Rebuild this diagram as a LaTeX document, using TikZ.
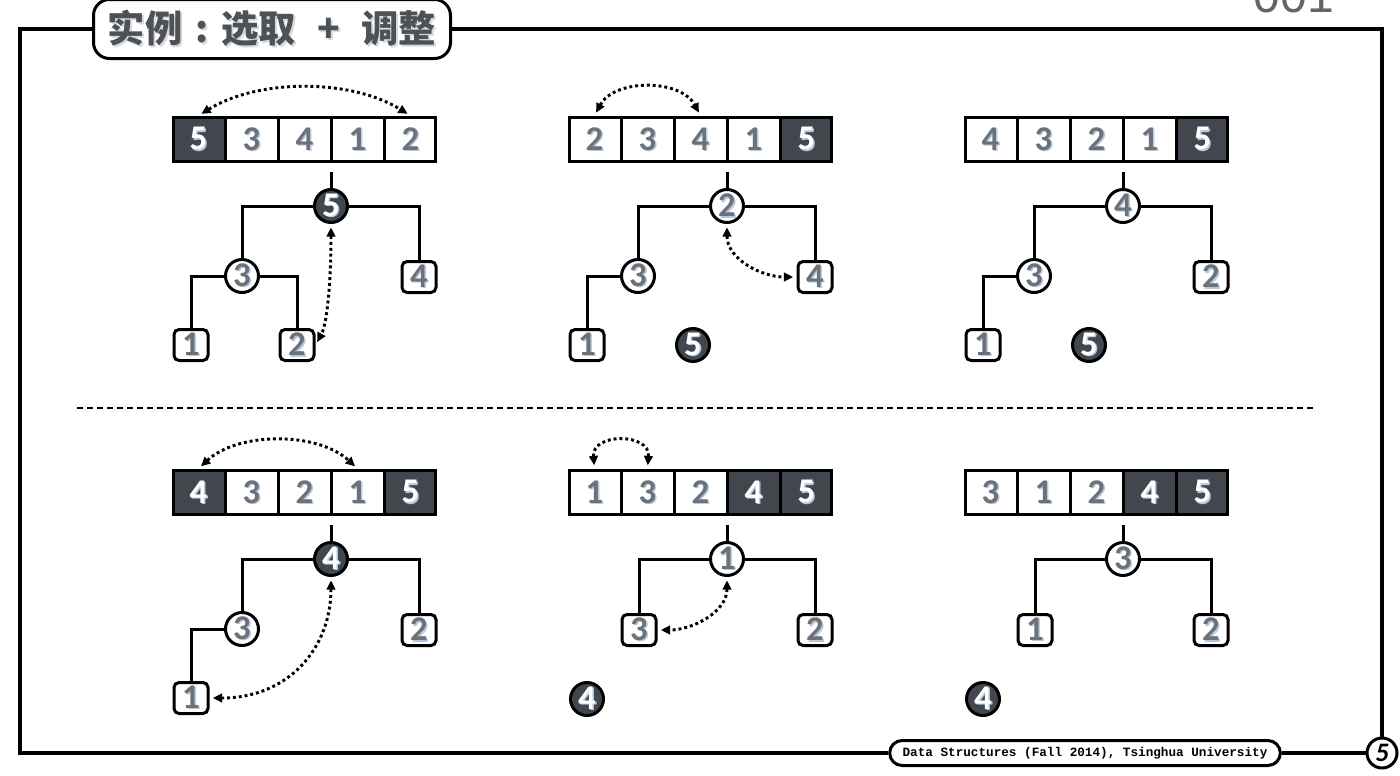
\documentclass[tikz,border=0pt]{standalone}
\usepackage{fontspec}
\setmainfont{Carlito}
\newfontfamily\cjk{Noto Sans CJK SC}
\newfontfamily\footfont{Liberation Mono}
\newfontfamily\slidefont{Liberation Sans}
\usetikzlibrary{shapes.multipart,arrows.meta}

\definecolor{darkc}{RGB}{65,71,77}
\definecolor{numgrey}{RGB}{109,113,120}
\definecolor{numshade}{RGB}{180,202,226}
\definecolor{titlegrey}{RGB}{77,82,88}
\definecolor{slidegrey}{RGB}{100,100,100}

% number with a light shadow
\newcommand\gnum[1]{\rlap{\hspace{1pt}\raisebox{-1pt}{\color{numshade}#1}}\textcolor{numgrey}{#1}}
\newcommand\wnum[1]{\rlap{\hspace{1pt}\raisebox{-1pt}{\color{numshade}#1}}\textcolor{white}{#1}}

\tikzset{every picture/.style={line width=0.75pt}}
\tikzset{
  cellrow/.style={rectangle split, rectangle split horizontal, rectangle split parts=5, draw, line width=2.25pt, text width=37.5pt, align=center, inner xsep=0pt, inner ysep=7.7pt, minimum height=33pt, font=\fontsize{26}{26}\selectfont\bfseries},
  hnode/.style={circle, draw, fill=white, line width=2.25pt, minimum size=24.75pt, inner sep=0pt, font=\fontsize{26}{26}\selectfont\bfseries},
  dnode/.style={hnode, fill=darkc},
  leaf/.style={rectangle, rounded corners=3.75pt, draw, fill=white, line width=2.25pt, minimum width=25.5pt, minimum height=23.25pt, inner sep=0pt, font=\fontsize{26}{26}\selectfont\bfseries},
  branch/.style={line width=2.25pt},
  swaparrow/.style={line width=2.2pt, dash pattern=on 2.2pt off 2.2pt, {Triangle[length=7pt,width=6.5pt]}-{Triangle[length=7pt,width=6.5pt]}, shorten <=2.5pt, shorten >=2.5pt},
  pageframe/.style={line width=2.6pt},
  sepline/.style={line width=1.1pt, dash pattern=on 4.5pt off 3pt},
  titlebox/.style={rectangle, rounded corners=12pt, draw, fill=white, line width=2.25pt, minimum width=267.75pt, minimum height=44.25pt, inner sep=0pt, text=titlegrey, font=\cjk\bfseries\fontsize{28}{28}\selectfont},
  footbox/.style={rectangle, rounded corners=9.4pt, draw, fill=white, line width=2.25pt, minimum width=293pt, minimum height=18.75pt, inner sep=0pt, font=\footfont\bfseries\fontsize{9.5}{9.5}\selectfont},
  pagenum/.style={circle, draw, fill=white, line width=2.25pt, minimum size=22.5pt, inner sep=0pt, font=\bfseries\itshape\fontsize{20}{20}\selectfont},
  slideno/.style={anchor=base, inner sep=0pt, text=slidegrey, font=\slidefont\fontsize{36}{36}\selectfont}
}
\newcommand\titletext{实例\hspace{0.35em}:\hspace{0.35em}选取\hspace{0.57em}+\hspace{0.57em}调整}

\begin{document}
\begin{tikzpicture}[x=0.75pt,y=0.75pt,yscale=-1,xscale=1]
    \useasboundingbox (0,0) rectangle (1400,775);

    %Page frame
    \node[slideno] (tag) at (1294,12) {001};
    \node[titlebox] (title) at (272,29) {\rlap{\hspace{1.5pt}\raisebox{-1.5pt}{\color{black!15}\titletext}}\titletext};
    \node[footbox] (foot) at (1085,753) {Data Structures (Fall 2014), Tsinghua University};
    \node[pagenum] (page) at (1382,753) {5};
    \coordinate (lb) at (20,753);
    \draw[pageframe] (title.west) -| (lb) -- (foot.west);
    \draw[pageframe] (title.east) -| (page.north);
    \draw[pageframe] (foot.east) -- (page.west);
    %Separator
    \coordinate (sepl) at (77,408);
    \coordinate (sepr) at (1316,408);
    \draw[sepline] (sepl) -- (sepr);

    %Panel 1
    \node[cellrow, rectangle split part fill={darkc,white,white,white,white}] (arr1) at (304.5,139.5) {\wnum{5}\nodepart{two}\gnum{3}\nodepart{three}\gnum{4}\nodepart{four}\gnum{1}\nodepart{five}\gnum{2}};
    \coordinate (s1) at (331,172);
    \node[dnode] (r1) at (331,206) {\wnum{5}};
    \node[hnode] (a1) at (242,276) {\gnum{3}};
    \node[leaf] (b1) at (419,277) {\gnum{4}};
    \node[leaf] (c1) at (191,345) {\gnum{1}};
    \node[leaf] (d1) at (297,345) {\gnum{2}};
    \draw[branch] (s1) -- (r1);
    \draw[branch] (r1) -| (a1);
    \draw[branch] (r1) -| (b1);
    \draw[branch] (a1) -| (c1);
    \draw[branch] (a1) -| (d1);
    \draw[swaparrow] (arr1.one north) .. controls +(60,-37) and +(-60,-37) .. (arr1.five north);
    \draw[swaparrow] (r1.south) .. controls +(0,55) and +(12,-22) .. (d1.east);

    %Panel 2
    \node[cellrow, rectangle split part fill={white,white,white,white,darkc}] (arr2) at (700.5,139.5) {\gnum{2}\nodepart{two}\gnum{3}\nodepart{three}\gnum{4}\nodepart{four}\gnum{1}\nodepart{five}\wnum{5}};
    \coordinate (s2) at (727,172);
    \node[hnode] (r2) at (727,206) {\gnum{2}};
    \node[hnode] (a2) at (638,276) {\gnum{3}};
    \node[leaf] (b2) at (815,277) {\gnum{4}};
    \node[leaf] (c2) at (587,345) {\gnum{1}};
    \node[dnode] (out2) at (693,345) {\wnum{5}};
    \draw[branch] (s2) -- (r2);
    \draw[branch] (r2) -| (a2);
    \draw[branch] (r2) -| (b2);
    \draw[branch] (a2) -| (c2);
    \draw[swaparrow] (arr2.one north) .. controls +(20,-37) and +(-20,-37) .. (arr2.three north);
    \draw[swaparrow] (r2.south) .. controls +(0,35) and +(-35,0) .. (b2.west);

    %Panel 3
    \node[cellrow, rectangle split part fill={white,white,white,white,darkc}] (arr3) at (1096.5,139.5) {\gnum{4}\nodepart{two}\gnum{3}\nodepart{three}\gnum{2}\nodepart{four}\gnum{1}\nodepart{five}\wnum{5}};
    \coordinate (s3) at (1123,172);
    \node[hnode] (r3) at (1123,206) {\gnum{4}};
    \node[hnode] (a3) at (1034,276) {\gnum{3}};
    \node[leaf] (b3) at (1211,277) {\gnum{2}};
    \node[leaf] (c3) at (983,345) {\gnum{1}};
    \node[dnode] (out3) at (1089,345) {\wnum{5}};
    \draw[branch] (s3) -- (r3);
    \draw[branch] (r3) -| (a3);
    \draw[branch] (r3) -| (b3);
    \draw[branch] (a3) -| (c3);

    %Panel 4
    \node[cellrow, rectangle split part fill={darkc,white,white,white,darkc}] (arr4) at (304.5,492.5) {\wnum{4}\nodepart{two}\gnum{3}\nodepart{three}\gnum{2}\nodepart{four}\gnum{1}\nodepart{five}\wnum{5}};
    \coordinate (s4) at (331,525);
    \node[dnode] (r4) at (331,559) {\wnum{4}};
    \node[hnode] (a4) at (242,629) {\gnum{3}};
    \node[leaf] (b4) at (419,630) {\gnum{2}};
    \node[leaf] (c4) at (191,698) {\gnum{1}};
    \draw[branch] (s4) -- (r4);
    \draw[branch] (r4) -| (a4);
    \draw[branch] (r4) -| (b4);
    \draw[branch] (a4) -| (c4);
    \draw[swaparrow] (arr4.one north) .. controls +(40,-37) and +(-40,-37) .. (arr4.four north);
    \draw[swaparrow] (r4.south) .. controls +(0,70) and +(80,0) .. (c4.east);

    %Panel 5
    \node[cellrow, rectangle split part fill={white,white,white,darkc,darkc}] (arr5) at (700.5,492.5) {\gnum{1}\nodepart{two}\gnum{3}\nodepart{three}\gnum{2}\nodepart{four}\wnum{4}\nodepart{five}\wnum{5}};
    \coordinate (s5) at (727,525);
    \node[hnode] (r5) at (727,559) {\gnum{1}};
    \node[leaf] (a5) at (639,630) {\gnum{3}};
    \node[leaf] (b5) at (815,630) {\gnum{2}};
    \node[dnode] (out5) at (587,699) {\wnum{4}};
    \draw[branch] (s5) -- (r5);
    \draw[branch] (r5) -| (a5);
    \draw[branch] (r5) -| (b5);
    \draw[swaparrow] (arr5.one north) .. controls +(-3,-36) and +(3,-36) .. (arr5.two north);
    \draw[swaparrow] (r5.south) .. controls +(0,35) and +(35,0) .. (a5.east);

    %Panel 6
    \node[cellrow, rectangle split part fill={white,white,white,darkc,darkc}] (arr6) at (1096.5,492.5) {\gnum{3}\nodepart{two}\gnum{1}\nodepart{three}\gnum{2}\nodepart{four}\wnum{4}\nodepart{five}\wnum{5}};
    \coordinate (s6) at (1123,525);
    \node[hnode] (r6) at (1123,559) {\gnum{3}};
    \node[leaf] (a6) at (1035,630) {\gnum{1}};
    \node[leaf] (b6) at (1211,630) {\gnum{2}};
    \node[dnode] (out6) at (983,699) {\wnum{4}};
    \draw[branch] (s6) -- (r6);
    \draw[branch] (r6) -| (a6);
    \draw[branch] (r6) -| (b6);

\end{tikzpicture}
\end{document}
